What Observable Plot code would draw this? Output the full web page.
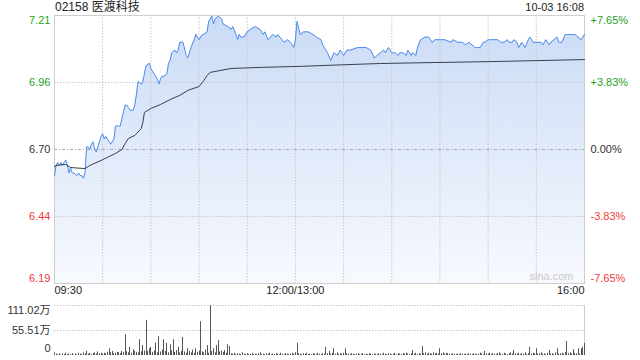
<!DOCTYPE html>
<html><head><meta charset="utf-8">
<script src="https://cdn.jsdelivr.net/npm/d3@7"></script>
<script src="https://cdn.jsdelivr.net/npm/@observablehq/plot@0.6"></script>
<style>
body{margin:0;background:#fff;}
#wrap{position:relative;width:640px;height:360px;overflow:hidden;font-family:"Liberation Sans",Arial,"Noto Sans CJK SC",sans-serif;}
#title{position:absolute;left:55px;top:0;font-size:12px;line-height:14px;color:#222;white-space:nowrap;}
#date{position:absolute;right:56px;top:0;font-size:11px;line-height:14px;color:#222;white-space:nowrap;}
#main{position:absolute;left:0;top:0;}
#vol{position:absolute;left:0;top:300px;}
</style></head><body>
<div id="wrap"><div id="main"></div><div id="vol"></div><div id="title">02158 医渡科技</div><div id="date">10-03 16:08</div></div>
<script>
// ---- data ----
const prevClose = 6.70;
const pctSteps = [7.65, 3.83, 0, -3.83, -7.65];
const priceTickLabels = ["7.21", "6.96", "6.70", "6.44", "6.19"];
const pctTickLabels = ["+7.65%", "+3.83%", "0.00%", "-3.83%", "-7.65%"];
const timeTickMinutes = [0, 150, 330];
const timeTickLabels = ["09:30", "12:00/13:00", "16:00"];
const gridMinutes = [30, 60, 90, 120, 150, 180, 210, 240, 270, 300];
const volMax = 111.02;
const volTickLabels = ["111.02万", "55.51万", "0"];

const priceMinutes = [0,1,2,3,4,5,6,7,8,9,10,11,12,14,15,16,17,18,19,20,21,22,23,24,25,26,27,29,30,31,32,33,34,35,37,38,39,40,41,42,44,45,46,47,49,50,51,52,54,55,56,57,59,60,61,62,64,65,66,67,68,70,71,72,73,75,76,77,78,80,82,83,85,87,88,90,92,93,95,96,98,99,100,102,104,105,108,110,111,113,114,115,116,118,120,122,125,128,130,131,133,136,138,139,143,145,147,149,150,151,153,155,158,161,163,166,167,170,172,174,176,178,180,182,184,189,194,197,199,201,203,205,206,208,210,212,214,215,217,219,220,222,223,225,226,228,231,233,235,237,240,243,247,248,251,254,256,258,260,262,263,265,267,268,270,271,276,278,280,282,283,285,286,288,289,291,293,295,296,298,300,303,304,306,308,309,311,313,314,316,318,319,321,324,326,328,329,330];
const prices = [6.60,6.64,6.65,6.64,6.65,6.64,6.65,6.66,6.64,6.61,6.63,6.61,6.61,6.60,6.61,6.60,6.60,6.59,6.61,6.71,6.71,6.70,6.72,6.73,6.70,6.69,6.71,6.75,6.76,6.74,6.75,6.74,6.73,6.72,6.74,6.79,6.79,6.79,6.79,6.82,6.87,6.87,6.86,6.85,6.85,6.87,6.91,6.96,6.95,6.96,6.99,7.02,7.03,7.01,7.00,6.99,6.97,6.95,6.97,6.98,6.98,6.99,7.03,7.04,7.07,7.08,7.07,7.08,7.11,7.11,7.06,7.05,7.09,7.12,7.14,7.12,7.14,7.14,7.15,7.19,7.21,7.18,7.20,7.21,7.20,7.18,7.17,7.16,7.17,7.14,7.12,7.14,7.13,7.13,7.15,7.16,7.17,7.16,7.14,7.15,7.12,7.14,7.13,7.14,7.11,7.12,7.11,7.09,7.12,7.19,7.14,7.15,7.15,7.14,7.13,7.12,7.10,7.07,7.04,7.07,7.06,7.08,7.06,7.08,7.08,7.09,7.09,7.08,7.05,7.06,7.07,7.08,7.07,7.09,7.07,7.07,7.06,7.07,7.07,7.06,7.08,7.06,7.07,7.06,7.09,7.12,7.13,7.13,7.11,7.12,7.12,7.12,7.11,7.12,7.11,7.11,7.10,7.11,7.10,7.09,7.09,7.09,7.11,7.11,7.12,7.12,7.12,7.11,7.11,7.12,7.11,7.11,7.12,7.11,7.09,7.11,7.09,7.12,7.13,7.11,7.11,7.11,7.10,7.12,7.10,7.11,7.12,7.13,7.11,7.11,7.14,7.14,7.14,7.14,7.13,7.12,7.13,7.14];

const avgMinutes = [0,1,7,10,19,22,29,38,42,44,46,50,54,55,56,60,66,72,78,83,90,93,95,97,103,110,128,153,184,203,240,278,330];
const avgPrices = [6.635,6.639,6.643,6.631,6.627,6.639,6.658,6.685,6.700,6.723,6.742,6.754,6.780,6.803,6.842,6.857,6.872,6.891,6.907,6.926,6.941,6.964,6.983,6.995,7.002,7.010,7.014,7.018,7.025,7.029,7.033,7.037,7.044];

// volume per minute (万), minute 0..330
const volumes = [
6,3,2,4,1,3,2,5,2,3,
2,4,1,3,2,5,3,2,6,4,
9,3,5,2,4,6,3,8,4,5,
3,5,4,7,15,6,9,4,5,7,
6,4,9,7,46,8,6,18,5,13,
9,7,6,35,8,22,10,78,9,15,
18,7,10,27,6,42,8,12,35,9,
27,6,24,10,35,7,11,18,6,9,
40,8,5,15,9,6,12,5,15,7,
10,75,8,6,12,22,5,111.02,9,15,
6,22,33,8,10,7,11,5,24,20,
4,3,5,2,4,3,2,6,3,2,
4,2,3,5,2,3,2,4,6,2,
3,2,4,3,5,2,3,2,4,3,
2,5,3,2,4,3,2,3,5,3,
6,27,4,3,2,4,3,5,2,3,
2,4,3,2,5,3,2,4,3,18,
4,9,3,5,15,3,6,2,4,3,
5,15,4,3,2,4,3,2,3,4,
2,3,4,2,3,2,4,3,2,3,
3,2,4,3,2,5,3,2,4,3,
2,3,5,2,4,3,2,4,3,5,
3,2,4,11,3,5,2,4,3,20,
4,6,3,5,4,3,6,4,5,3,
15,4,6,3,5,4,3,2,4,3,
2,3,2,4,3,2,3,2,4,3,
2,4,3,2,3,5,3,2,9,4,
3,5,2,4,3,2,4,6,3,2,
5,3,2,4,6,3,11,4,3,5,
2,4,3,6,2,4,18,3,5,4,
15,3,4,6,3,4,2,5,11,3,
4,2,6,15,3,4,5,3,7,31,
4,6,3,13,5,4,15,3,15,18,
27];

// ---- build ----
const GREEN = "#1fa31f", RED = "#f03a3a", DARK = "#333";
const FONT = '"Liberation Sans", Arial, "Noto Sans CJK SC", sans-serif';
const priceData = priceMinutes.map((m, i) => ({m, p: prices[i]}));
const avgData = avgMinutes.map((m, i) => ({m, p: avgPrices[i]}));
const yLo = prevClose * (1 + pctSteps[4] / 100), yHi = prevClose * (1 + pctSteps[0] / 100);
const yTicks = pctSteps.map((s, i) => ({
  v: prevClose * (1 + s / 100), label: priceTickLabels[i], pct: pctTickLabels[i],
  color: s > 0 ? GREEN : s < 0 ? RED : DARK, idx: i
}));
const timeTicks = timeTickMinutes.map((m, i) => ({m, label: timeTickLabels[i]}));

function sideLabels(rows, dy) {
  return [
    Plot.text(rows, {y: "v", text: "label", fill: "color", frameAnchor: "left", dx: -4, dy, textAnchor: "end", fontSize: 11}),
    Plot.text(rows, {y: "v", text: "pct", fill: "color", frameAnchor: "right", dx: 6, dy, textAnchor: "start", fontSize: 11})
  ];
}

const main = Plot.plot({
  width: 640, height: 300,
  marginTop: 15, marginBottom: 17, marginLeft: 54, marginRight: 56,
  style: {fontFamily: FONT, fontSize: "11px", background: "transparent", overflow: "visible"},
  x: {domain: [0, 330], axis: null},
  y: {domain: [yLo, yHi], axis: null},
  color: {type: "identity"},
  marks: [
    Plot.areaY(priceData, {x: "m", y1: yLo, y2: "p", fill: "url(#pg)"}),
    Plot.ruleX(gridMinutes, {stroke: "#c8c8c8", strokeDasharray: "1.5,1.5"}),
    Plot.ruleY([yTicks[1].v, yTicks[3].v], {stroke: "#c8c8c8", strokeDasharray: "1.5,1.5"}),
    Plot.ruleY([prevClose], {stroke: "#a8a8a8", strokeDasharray: "3,2,1,2"}),
    Plot.frame({stroke: "#cfcfcf"}),
    Plot.line(priceData, {x: "m", y: "p", stroke: "#4f8be9", strokeWidth: 1}),
    Plot.line(avgData, {x: "m", y: "p", stroke: "#38404c", strokeWidth: 1}),
    ...sideLabels(yTicks.filter(d => d.idx === 0), 5),
    ...sideLabels(yTicks.filter(d => d.idx > 0 && d.idx < 4), 0),
    ...sideLabels(yTicks.filter(d => d.idx === 4), -5),
    Plot.text(timeTicks.slice(0, 1), {x: "m", text: "label", frameAnchor: "bottom", dy: 10, textAnchor: "start", fill: "#222", fontSize: 11}),
    Plot.text(timeTicks.slice(1, 2), {x: "m", text: "label", frameAnchor: "bottom", dy: 10, textAnchor: "middle", fill: "#222", fontSize: 11}),
    Plot.text(timeTicks.slice(2, 3), {x: "m", text: "label", frameAnchor: "bottom", dy: 10, textAnchor: "end", fill: "#222", fontSize: 11}),
    Plot.text(["sina.com"], {frameAnchor: "bottom-right", dx: -11, dy: -4, textAnchor: "end", fill: "#c9c9c9", fontSize: 11})
  ]
});
d3.select(main).insert("defs", ":first-child").html(
  '<linearGradient id="pg" gradientUnits="userSpaceOnUse" x1="0" y1="15" x2="0" y2="283">' +
  '<stop offset="0" stop-color="#cadbf6"/><stop offset="1" stop-color="#f7f9fe"/></linearGradient>');
document.getElementById("main").append(main);

const volData = volumes.map((v, i) => ({m: i, v}));
const volTicks = [volMax, volMax / 2, 0].map((v, i) => ({v, label: volTickLabels[i]}));
const vol = Plot.plot({
  width: 640, height: 60,
  marginTop: 5, marginBottom: 5, marginLeft: 54, marginRight: 56,
  style: {fontFamily: FONT, fontSize: "11px", background: "transparent", overflow: "visible"},
  x: {domain: [0, 330], axis: null, round: true},
  y: {domain: [0, volMax], axis: null},
  marks: [
    Plot.ruleY([volMax, volMax / 2], {stroke: "#c8c8c8", strokeDasharray: "1.5,1.5"}),
    Plot.ruleX([330], {stroke: "#cfcfcf"}),
    Plot.ruleX(volData, {x: "m", y1: 0, y2: "v", stroke: "#555", strokeWidth: 1}),
    Plot.text(volTicks.slice(0, 1), {y: "v", text: "label", frameAnchor: "left", dx: -4, dy: 5, textAnchor: "end", fill: DARK, fontSize: 11}),
    Plot.text(volTicks.slice(1, 2), {y: "v", text: "label", frameAnchor: "left", dx: -4, dy: 0, textAnchor: "end", fill: DARK, fontSize: 11}),
    Plot.text(volTicks.slice(2, 3), {y: "v", text: "label", frameAnchor: "left", dx: -4, dy: -7, textAnchor: "end", fill: DARK, fontSize: 11})
  ]
});
document.getElementById("vol").append(vol);
</script>
</body></html>
